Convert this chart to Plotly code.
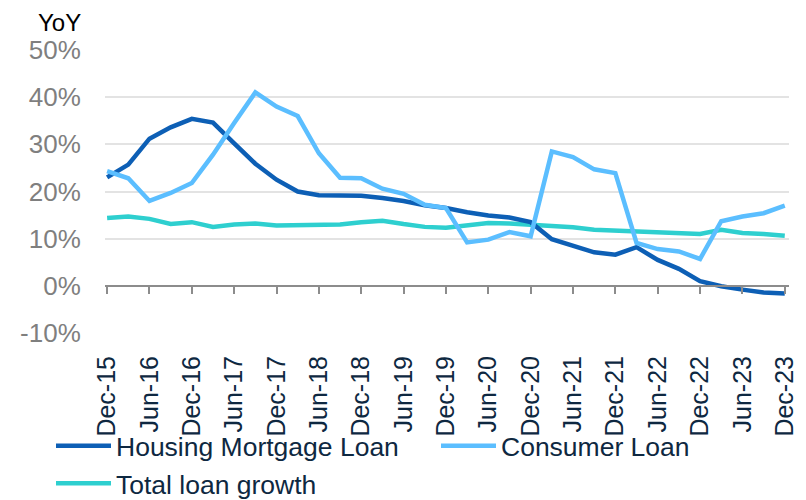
import plotly.graph_objects as go

quarters = ["Dec-15", "Mar-16", "Jun-16", "Sep-16", "Dec-16", "Mar-17", "Jun-17", "Sep-17",
            "Dec-17", "Mar-18", "Jun-18", "Sep-18", "Dec-18", "Mar-19", "Jun-19", "Sep-19",
            "Dec-19", "Mar-20", "Jun-20", "Sep-20", "Dec-20", "Mar-21", "Jun-21", "Sep-21",
            "Dec-21", "Mar-22", "Jun-22", "Sep-22", "Dec-22", "Mar-23", "Jun-23", "Sep-23",
            "Dec-23"]
tick_labels = ["Dec-15", "Jun-16", "Dec-16", "Jun-17", "Dec-17", "Jun-18", "Dec-18", "Jun-19",
               "Dec-19", "Jun-20", "Dec-20", "Jun-21", "Dec-21", "Jun-22", "Dec-22", "Jun-23",
               "Dec-23"]
y_tick_values = [-10, 0, 10, 20, 30, 40, 50]
y_tick_labels = ["-10%", "0%", "10%", "20%", "30%", "40%", "50%"]

housing = [23.0, 25.7, 31.2, 33.6, 35.4, 34.6, 30.2, 25.9, 22.5, 20.0, 19.2, 19.2, 19.1,
           18.6, 18.0, 17.1, 16.5, 15.6, 14.9, 14.5, 13.5, 9.9, 8.6, 7.1, 6.6, 8.2, 5.5,
           3.6, 1.0, -0.1, -0.8, -1.4, -1.6]
consumer = [24.3, 22.8, 18.0, 19.7, 21.8, 27.8, 34.5, 41.0, 38.0, 36.0, 28.1, 22.9, 22.8,
            20.6, 19.5, 17.2, 16.5, 9.2, 9.8, 11.4, 10.5, 28.5, 27.3, 24.7, 23.9, 9.1, 7.8,
            7.3, 5.7, 13.7, 14.7, 15.4, 17.0]
total = [14.4, 14.7, 14.2, 13.1, 13.5, 12.5, 13.0, 13.2, 12.8, 12.8, 12.8, 13.0, 13.5,
         13.8, 13.1, 12.5, 12.3, 12.8, 13.3, 13.2, 13.0, 12.8, 12.4, 11.9, 11.7, 11.5, 11.2,
         11.2, 11.0, 11.9, 11.2, 11.0, 10.6]

FONT = "Arial, 'Liberation Sans', sans-serif"
NAVY = "#0E2841"
AXIS_GREY = "#8C8C8C"

# the page adds an 8px body margin, so the figure is sized to fit the window after it
W, H = 798, 492

fig = go.Figure()
fig.add_trace(go.Scatter(x=quarters, y=total, name="Total loan growth", mode="lines",
                         line=dict(color="#2ECFCF", width=4.5), legend="legend",
                         legendgroup="t", legendrank=2))
fig.add_trace(go.Scatter(x=quarters, y=housing, name="Housing Mortgage Loan", mode="lines",
                         line=dict(color="#0D5FB5", width=4.5), legend="legend",
                         legendgroup="h", legendrank=1))
fig.add_trace(go.Scatter(x=quarters, y=consumer, name="Consumer Loan", mode="lines",
                         line=dict(color="#5BBEFF", width=4.5), legend="legend2",
                         xaxis="x2", yaxis="y"))

legend_common = dict(xref="container", yref="container", xanchor="left", yanchor="top",
                     font=dict(size=26.5, color=NAVY, family=FONT), itemwidth=55,
                     bgcolor="rgba(0,0,0,0)", tracegroupgap=0, traceorder="grouped",
                     orientation="v")

fig.update_layout(
    width=W, height=H,
    margin=dict(l=97, r=17, t=42, b=167, autoexpand=False),
    paper_bgcolor="white", plot_bgcolor="white",
    font=dict(family=FONT, color=NAVY),
    showlegend=True,
    legend=dict(x=43 / W, y=1 - 414 / H, **legend_common),
    legend2=dict(x=428 / W, y=1 - 414 / H, **legend_common),
    xaxis=dict(type="category", categoryorder="array", categoryarray=quarters,
               range=[-0.1, 32.2], tickmode="array", tickvals=tick_labels,
               ticktext=tick_labels, tickangle=-90, ticks="outside", ticklen=12,
               tickcolor="rgba(0,0,0,0)", showgrid=False, showline=False, zeroline=False,
               tickfont=dict(size=25, color=NAVY, family=FONT)),
    xaxis2=dict(overlaying="x", anchor="free", position=1 / 6, type="category",
                categoryorder="array", categoryarray=quarters,
                range=[-0.1, 32.2], tickmode="array", tickvals=tick_labels,
                showline=True, linecolor=AXIS_GREY, linewidth=1.5,
                ticks="outside", ticklen=7, tickwidth=1.5, tickcolor=AXIS_GREY,
                showticklabels=False, showgrid=False, zeroline=False),
    yaxis=dict(range=[-10, 50], tickmode="array", tickvals=y_tick_values,
               ticktext=y_tick_labels,
               showgrid=True, gridcolor="#E3E3E3", gridwidth=1.5, zeroline=False,
               showline=False, ticks="outside", ticklen=18, tickcolor="rgba(0,0,0,0)",
               tickfont=dict(size=26, color="#7F7F7F", family=FONT)),
    annotations=[dict(text="YoY", xref="paper", yref="paper", x=-68 / 684, y=1,
                      xanchor="left", yanchor="bottom", yshift=13, showarrow=False,
                      borderpad=0,
                      font=dict(size=24, color="black", family=FONT))],
)

fig.write_html("out.html")
